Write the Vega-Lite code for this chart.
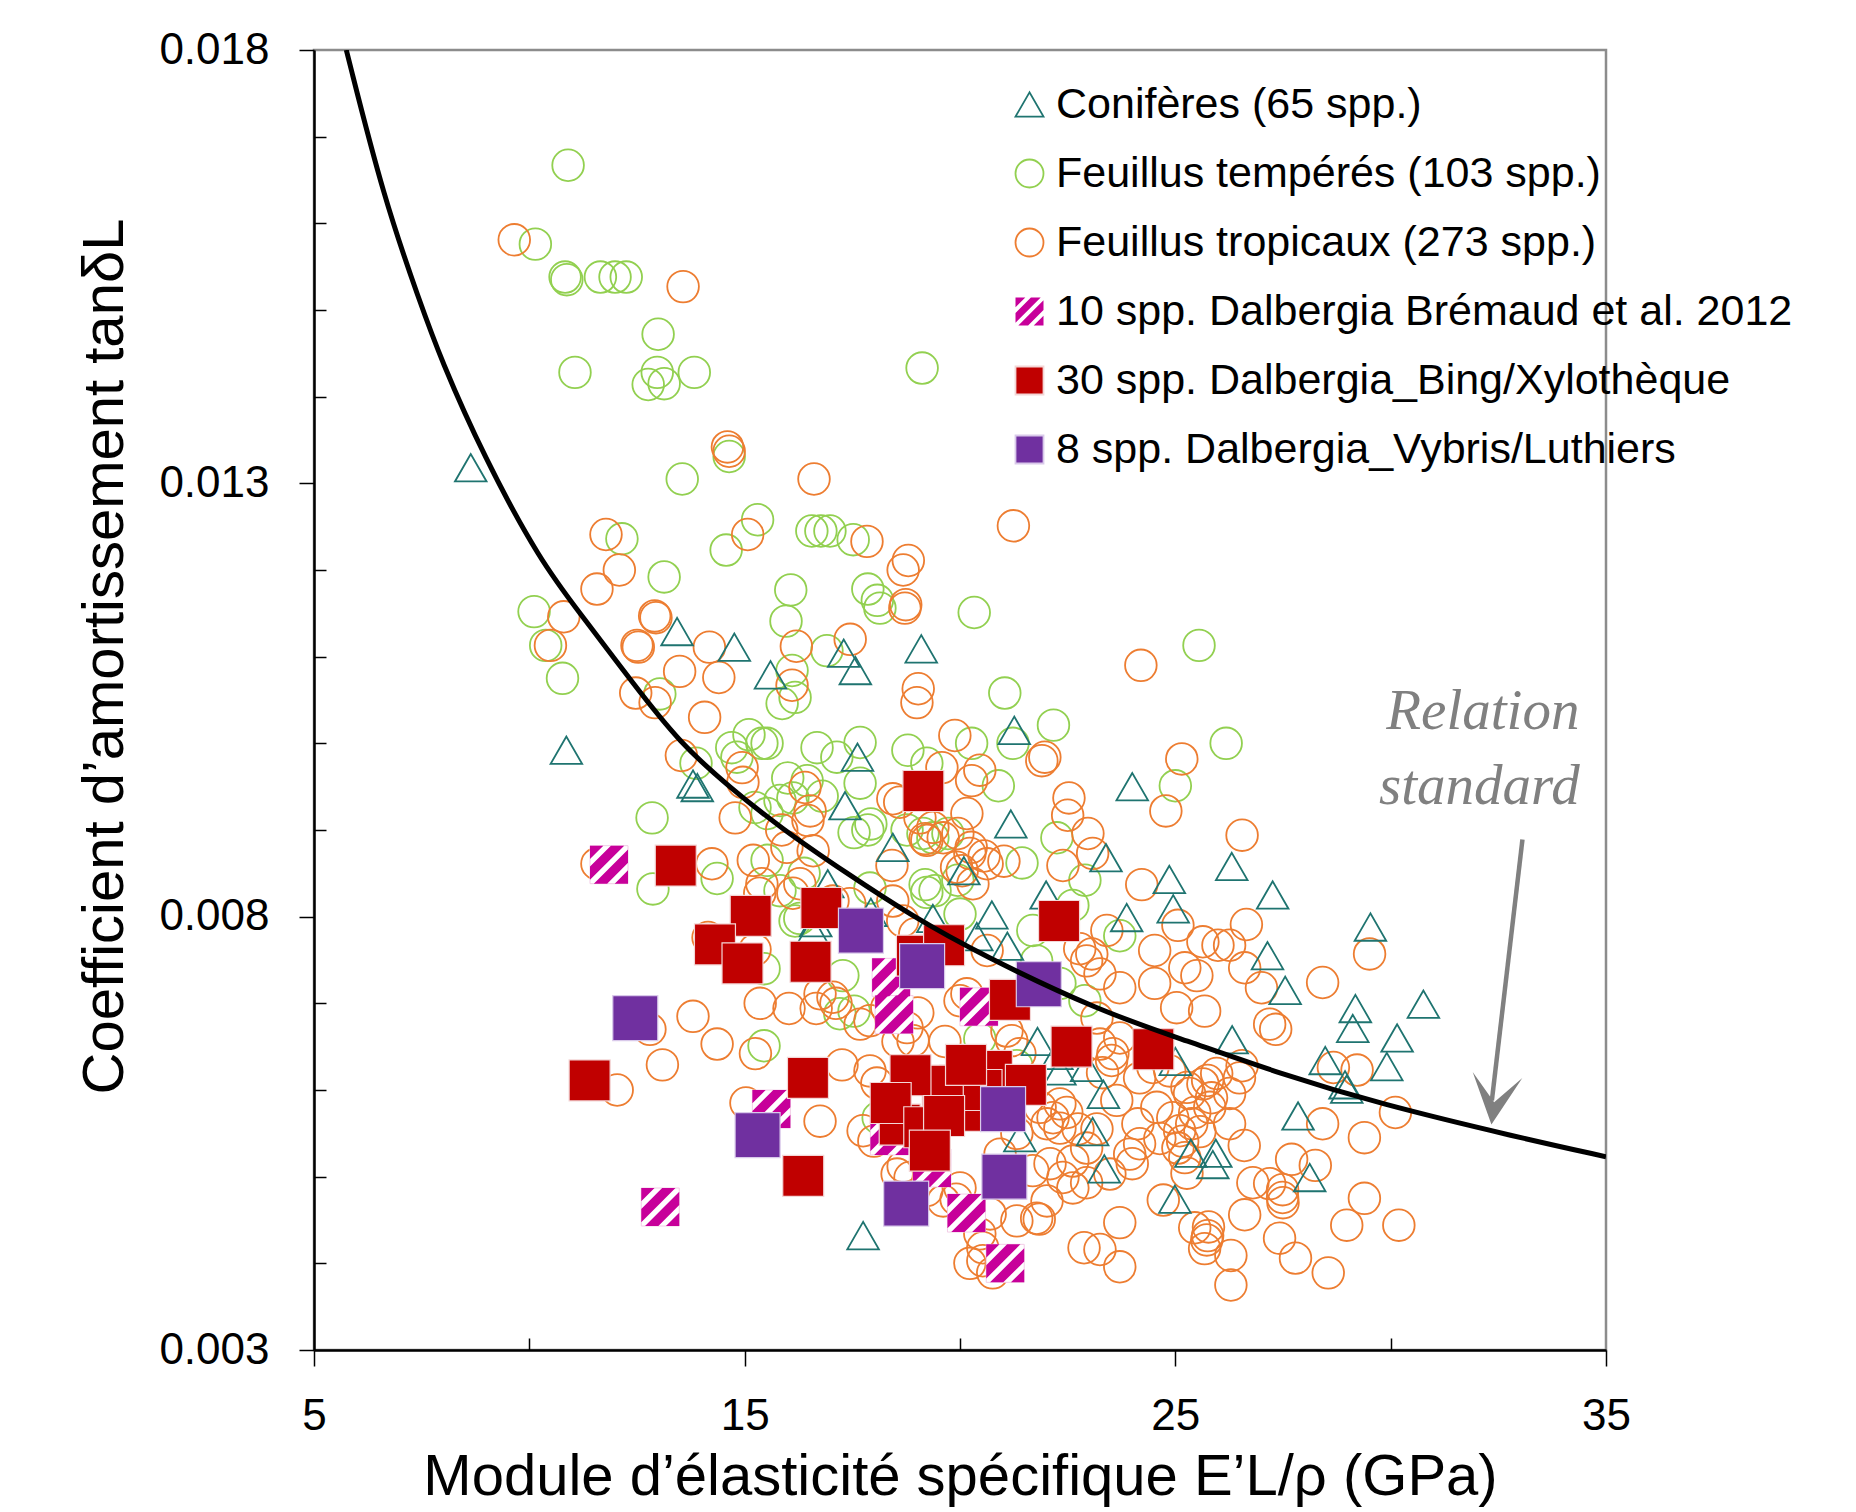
{
"$schema": "https://vega.github.io/schema/vega-lite/v6.json",
"width": 1292, "height": 1300,
"autosize": {"type": "none"},
"padding": {"left": 314, "top": 50, "right": 250, "bottom": 162},
"background": "white",
"config": {
  "view": {"stroke": "#8c8c8c", "strokeWidth": 2.5},
  "font": "Liberation Sans, Arial, sans-serif"
},
"datasets": {
"pts": [
{"g":"T","x":10.9,"y":0.01667},{"g":"T","x":10.14,"y":0.01576},{"g":"T","x":10.83,"y":0.01538},{"g":"T","x":10.87,"y":0.01535},{"g":"T","x":11.65,"y":0.01538},{"g":"T","x":11.99,"y":0.01538},{"g":"T","x":12.25,"y":0.01538},{"g":"T","x":12.99,"y":0.01472},{"g":"T","x":11.06,"y":0.01428},{"g":"T","x":12.97,"y":0.01428},
{"g":"T","x":12.76,"y":0.01414},{"g":"T","x":13.13,"y":0.01415},{"g":"T","x":13.83,"y":0.01428},{"g":"T","x":19.12,"y":0.01433},{"g":"T","x":14.64,"y":0.01331},{"g":"T","x":13.55,"y":0.01305},{"g":"T","x":12.15,"y":0.01236},{"g":"T","x":15.3,"y":0.01258},{"g":"T","x":16.56,"y":0.01245},{"g":"T","x":16.77,"y":0.01245},
{"g":"T","x":16.98,"y":0.01245},{"g":"T","x":17.52,"y":0.01235},{"g":"T","x":14.57,"y":0.01223},{"g":"T","x":13.13,"y":0.01192},{"g":"T","x":16.07,"y":0.01177},{"g":"T","x":17.86,"y":0.01178},{"g":"T","x":18.08,"y":0.01165},{"g":"T","x":20.33,"y":0.01151},{"g":"T","x":10.11,"y":0.01152},{"g":"T","x":10.38,"y":0.01113},
{"g":"T","x":10.77,"y":0.01075},{"g":"T","x":15.96,"y":0.01141},{"g":"T","x":16.1,"y":0.01084},{"g":"T","x":15.87,"y":0.01046},{"g":"T","x":16.17,"y":0.01053},{"g":"T","x":16.91,"y":0.01107},{"g":"T","x":18.14,"y":0.01156},{"g":"T","x":21.04,"y":0.01058},{"g":"T","x":25.55,"y":0.01113},{"g":"T","x":13.03,"y":0.01057},
{"g":"T","x":13.87,"y":0.00977},{"g":"T","x":12.85,"y":0.00914},{"g":"T","x":14.82,"y":0.00984},{"g":"T","x":15.4,"y":0.01},{"g":"T","x":15.52,"y":0.01},{"g":"T","x":16.68,"y":0.00995},{"g":"T","x":17.14,"y":0.00984},{"g":"T","x":17.68,"y":0.01001},{"g":"T","x":17.68,"y":0.00954},{"g":"T","x":16.12,"y":0.00937},
{"g":"T","x":15.82,"y":0.00934},{"g":"T","x":15.52,"y":0.00919},{"g":"T","x":17.86,"y":0.009},{"g":"T","x":18.79,"y":0.00992},{"g":"T","x":19.23,"y":0.00977},{"g":"T","x":20.27,"y":0.01},{"g":"T","x":18.77,"y":0.009},{"g":"T","x":19.14,"y":0.00896},{"g":"T","x":19.37,"y":0.00891},{"g":"T","x":19.23,"y":0.00828},
{"g":"T","x":20.0,"y":0.00803},{"g":"T","x":14.36,"y":0.00844},{"g":"T","x":12.87,"y":0.00832},{"g":"T","x":22.17,"y":0.01021},{"g":"T","x":26.18,"y":0.01},{"g":"T","x":25.0,"y":0.00951},{"g":"T","x":21.23,"y":0.01},{"g":"T","x":20.89,"y":0.00951},{"g":"T","x":22.25,"y":0.00891},{"g":"T","x":21.44,"y":0.00862},
{"g":"T","x":22.9,"y":0.00842},{"g":"T","x":19.95,"y":0.00842},{"g":"T","x":21.69,"y":0.00784},{"g":"T","x":22.62,"y":0.00813},{"g":"T","x":23.71,"y":0.00778},{"g":"T","x":21.78,"y":0.00749},{"g":"T","x":22.9,"y":0.00703},{"g":"T","x":22.32,"y":0.00723},{"g":"T","x":17.28,"y":0.00732},{"g":"T","x":17.21,"y":0.00688},
{"g":"T","x":20.46,"y":0.00659},{"g":"T","x":21.32,"y":0.00628},{"g":"T","x":18.1,"y":0.00568},{"g":"T","x":15.52,"y":0.00865},{"g":"T","x":15.82,"y":0.0083},{"g":"T","x":16.17,"y":0.00795},{"g":"T","x":17.91,"y":0.00833},{"g":"T","x":19.42,"y":0.0083},{"g":"T","x":15.1,"y":0.0101},{"g":"T","x":14.7,"y":0.00995},
{"g":"T","x":16.45,"y":0.00957},{"g":"T","x":16.0,"y":0.0096},{"g":"T","x":19.72,"y":0.00896},{"g":"T","x":15.45,"y":0.00651},{"g":"T","x":16.38,"y":0.0085},{"g":"T","x":16.28,"y":0.00798},{"g":"T","x":15.45,"y":0.0074},{"g":"T","x":17.54,"y":0.00691},{"g":"T","x":15.24,"y":0.00926},{"g":"T","x":16.8,"y":0.00939},
{"g":"T","x":17.93,"y":0.00907},{"g":"T","x":17.54,"y":0.00897},{"g":"T","x":19.19,"y":0.00837},
{"g":"R","x":9.65,"y":0.01581},{"g":"R","x":13.57,"y":0.01527},{"g":"R","x":14.64,"y":0.01337},{"g":"R","x":14.6,"y":0.01342},{"g":"R","x":16.61,"y":0.01305},{"g":"R","x":11.78,"y":0.01241},{"g":"R","x":15.07,"y":0.01241},{"g":"R","x":17.84,"y":0.01233},{"g":"R","x":18.8,"y":0.01211},{"g":"R","x":21.24,"y":0.01251},
{"g":"R","x":11.57,"y":0.01178},{"g":"R","x":12.09,"y":0.012},{"g":"R","x":18.68,"y":0.012},{"g":"R","x":18.74,"y":0.0116},{"g":"R","x":10.8,"y":0.01146},{"g":"R","x":10.49,"y":0.01113},{"g":"R","x":12.91,"y":0.01147},{"g":"R","x":12.53,"y":0.01111},{"g":"R","x":14.18,"y":0.01111},{"g":"R","x":13.49,"y":0.01083},
{"g":"R","x":14.4,"y":0.01076},{"g":"R","x":16.2,"y":0.01112},{"g":"R","x":16.1,"y":0.01067},{"g":"R","x":17.45,"y":0.0112},{"g":"R","x":19.03,"y":0.01063},{"g":"R","x":19.0,"y":0.01047},{"g":"R","x":24.2,"y":0.0109},{"g":"R","x":12.47,"y":0.01058},{"g":"R","x":12.92,"y":0.01047},{"g":"R","x":14.07,"y":0.0103},
{"g":"R","x":13.53,"y":0.00986},{"g":"R","x":14.78,"y":0.00914},{"g":"R","x":14.94,"y":0.00972},{"g":"R","x":14.96,"y":0.00955},{"g":"R","x":16.4,"y":0.00949},{"g":"R","x":16.52,"y":0.00922},{"g":"R","x":15.86,"y":0.009},{"g":"R","x":16.47,"y":0.00911},{"g":"R","x":18.44,"y":0.00936},{"g":"R","x":18.6,"y":0.00932},
{"g":"R","x":19.88,"y":0.01009},{"g":"R","x":20.27,"y":0.00957},{"g":"R","x":20.16,"y":0.00919},{"g":"R","x":19.23,"y":0.00888},{"g":"R","x":18.42,"y":0.00859},{"g":"R","x":19.92,"y":0.00857},{"g":"R","x":14.24,"y":0.00861},{"g":"R","x":11.57,"y":0.00861},{"g":"R","x":18.72,"y":0.01156},{"g":"R","x":12.94,"y":0.01145},
{"g":"R","x":12.5,"y":0.01113},{"g":"R","x":25.15,"y":0.00982},{"g":"R","x":21.97,"y":0.00984},{"g":"R","x":21.9,"y":0.0098},{"g":"R","x":19.58,"y":0.00972},{"g":"R","x":20.46,"y":0.00969},{"g":"R","x":22.53,"y":0.00937},{"g":"R","x":22.5,"y":0.00917},{"g":"R","x":24.78,"y":0.00922},{"g":"R","x":22.97,"y":0.00896},
{"g":"R","x":23.08,"y":0.00873},{"g":"R","x":22.39,"y":0.00859},{"g":"R","x":26.55,"y":0.00894},{"g":"R","x":24.22,"y":0.00837},{"g":"R","x":20.26,"y":0.0088},{"g":"R","x":20.56,"y":0.0087},{"g":"R","x":21.02,"y":0.00864},{"g":"R","x":20.63,"y":0.00861},{"g":"R","x":20.05,"y":0.00853},{"g":"R","x":19.19,"y":0.0089},
{"g":"R","x":19.61,"y":0.00891},{"g":"R","x":20.63,"y":0.00761},{"g":"R","x":22.78,"y":0.00763},{"g":"R","x":23.06,"y":0.00757},{"g":"R","x":23.41,"y":0.00784},{"g":"R","x":24.52,"y":0.00761},{"g":"R","x":25.06,"y":0.0079},{"g":"R","x":25.64,"y":0.00771},{"g":"R","x":25.99,"y":0.00767},{"g":"R","x":26.26,"y":0.00767},
{"g":"R","x":26.65,"y":0.00791},{"g":"R","x":25.22,"y":0.00741},{"g":"R","x":25.5,"y":0.00732},{"g":"R","x":26.61,"y":0.00741},{"g":"R","x":27.0,"y":0.00718},{"g":"R","x":23.71,"y":0.00718},{"g":"R","x":24.52,"y":0.00723},{"g":"R","x":25.03,"y":0.00695},{"g":"R","x":25.68,"y":0.00691},{"g":"R","x":27.19,"y":0.00676},
{"g":"R","x":22.94,"y":0.00749},{"g":"R","x":23.25,"y":0.00734},{"g":"R","x":29.51,"y":0.00757},{"g":"R","x":28.42,"y":0.00724},{"g":"R","x":27.33,"y":0.0067},{"g":"R","x":28.67,"y":0.00626},{"g":"R","x":29.22,"y":0.00623},{"g":"R","x":30.11,"y":0.00574},{"g":"R","x":29.39,"y":0.00545},{"g":"R","x":28.42,"y":0.00561},
{"g":"R","x":26.55,"y":0.00628},{"g":"R","x":26.49,"y":0.00614},{"g":"R","x":27.7,"y":0.0052},{"g":"R","x":28.25,"y":0.00513},{"g":"R","x":29.39,"y":0.00475},{"g":"R","x":28.98,"y":0.00444},{"g":"R","x":30.19,"y":0.00444},{"g":"R","x":27.49,"y":0.00485},{"g":"R","x":26.61,"y":0.00456},{"g":"R","x":27.42,"y":0.00429},
{"g":"R","x":27.79,"y":0.00406},{"g":"R","x":28.55,"y":0.00389},{"g":"R","x":25.77,"y":0.00442},{"g":"R","x":25.73,"y":0.00427},{"g":"R","x":26.29,"y":0.00409},{"g":"R","x":26.29,"y":0.00375},{"g":"R","x":23.71,"y":0.00447},{"g":"R","x":22.88,"y":0.00418},{"g":"R","x":23.25,"y":0.00416},{"g":"R","x":23.71,"y":0.00396},
{"g":"R","x":21.84,"y":0.00451},{"g":"R","x":24.72,"y":0.00473},{"g":"R","x":25.57,"y":0.00552},{"g":"R","x":25.27,"y":0.00504},{"g":"R","x":25.96,"y":0.00619},{"g":"R","x":25.75,"y":0.00611},{"g":"R","x":25.84,"y":0.00591},{"g":"R","x":25.33,"y":0.00596},{"g":"R","x":25.45,"y":0.00574},{"g":"R","x":25.38,"y":0.00561},
{"g":"R","x":25.1,"y":0.00553},{"g":"R","x":25.17,"y":0.00541},{"g":"R","x":26.26,"y":0.00561},{"g":"R","x":26.6,"y":0.00536},{"g":"R","x":25.22,"y":0.00522},{"g":"R","x":26.8,"y":0.00493},{"g":"R","x":27.19,"y":0.00492},{"g":"R","x":27.49,"y":0.00476},{"g":"R","x":27.5,"y":0.0047},{"g":"R","x":25.45,"y":0.00441},
{"g":"R","x":25.75,"y":0.00432},{"g":"R","x":25.68,"y":0.00417},{"g":"R","x":23.18,"y":0.00683},{"g":"R","x":23.52,"y":0.00634},{"g":"R","x":23.31,"y":0.0062},{"g":"R","x":23.64,"y":0.00588},{"g":"R","x":24.13,"y":0.00561},{"g":"R","x":24.57,"y":0.0058},{"g":"R","x":24.94,"y":0.00568},{"g":"R","x":25.8,"y":0.0058},
{"g":"R","x":26.26,"y":0.00596},{"g":"R","x":24.17,"y":0.00538},{"g":"R","x":24.64,"y":0.00544},{"g":"R","x":25.06,"y":0.00533},{"g":"R","x":22.16,"y":0.00568},{"g":"R","x":22.32,"y":0.00556},{"g":"R","x":22.74,"y":0.00555},{"g":"R","x":23.18,"y":0.00555},{"g":"R","x":22.94,"y":0.00533},{"g":"R","x":21.86,"y":0.0058},
{"g":"R","x":22.02,"y":0.00561},{"g":"R","x":22.32,"y":0.00584},{"g":"R","x":22.48,"y":0.00574},{"g":"R","x":21.69,"y":0.00507},{"g":"R","x":22.09,"y":0.00515},{"g":"R","x":22.39,"y":0.00499},{"g":"R","x":22.62,"y":0.00487},{"g":"R","x":22.94,"y":0.00493},{"g":"R","x":22.62,"y":0.00518},{"g":"R","x":23.48,"y":0.00503},
{"g":"R","x":23.94,"y":0.00526},{"g":"R","x":24.0,"y":0.00515},{"g":"R","x":21.78,"y":0.00452},{"g":"R","x":21.32,"y":0.00449},{"g":"R","x":20.7,"y":0.00457},{"g":"R","x":20.46,"y":0.00434},{"g":"R","x":20.53,"y":0.00403},{"g":"R","x":20.23,"y":0.004},{"g":"R","x":20.76,"y":0.00389},{"g":"R","x":20.93,"y":0.00526},
{"g":"R","x":21.32,"y":0.0055},{"g":"R","x":22.02,"y":0.00472},{"g":"R","x":19.23,"y":0.00484},{"g":"R","x":19.61,"y":0.00472},{"g":"R","x":20.0,"y":0.00487},{"g":"R","x":18.54,"y":0.00503},{"g":"R","x":18.84,"y":0.00499},{"g":"R","x":17.91,"y":0.00622},{"g":"R","x":18.07,"y":0.00608},{"g":"R","x":16.75,"y":0.00564},
{"g":"R","x":17.75,"y":0.00553},{"g":"R","x":17.68,"y":0.00676},{"g":"R","x":17.91,"y":0.0068},{"g":"R","x":18.77,"y":0.00672},{"g":"R","x":18.91,"y":0.00657},{"g":"R","x":17.05,"y":0.00707},{"g":"R","x":16.75,"y":0.00711},{"g":"R","x":20.0,"y":0.00703},{"g":"R","x":20.16,"y":0.00711},{"g":"R","x":21.09,"y":0.00668},
{"g":"R","x":21.2,"y":0.00657},{"g":"R","x":21.39,"y":0.00642},{"g":"R","x":23.25,"y":0.00653},{"g":"R","x":23.55,"y":0.00642},{"g":"R","x":23.71,"y":0.0066},{"g":"R","x":24.17,"y":0.00614},{"g":"R","x":24.48,"y":0.00626},{"g":"R","x":24.87,"y":0.00622},{"g":"R","x":25.27,"y":0.00603},{"g":"R","x":25.64,"y":0.00607},
{"g":"R","x":15.24,"y":0.00762},{"g":"R","x":14.15,"y":0.00776},{"g":"R","x":15.36,"y":0.007},{"g":"R","x":16.03,"y":0.00694},{"g":"R","x":16.66,"y":0.00694},{"g":"R","x":17.12,"y":0.007},{"g":"R","x":18.3,"y":0.00695},{"g":"R","x":18.56,"y":0.00656},{"g":"R","x":19.02,"y":0.00689},{"g":"R","x":13.8,"y":0.00685},
{"g":"R","x":14.36,"y":0.00653},{"g":"R","x":13.09,"y":0.00629},{"g":"R","x":12.04,"y":0.006},{"g":"R","x":15.03,"y":0.00585},{"g":"R","x":18.0,"y":0.00541},{"g":"R","x":18.68,"y":0.00512},{"g":"R","x":19.91,"y":0.00474},{"g":"R","x":20.53,"y":0.00418},{"g":"R","x":17.26,"y":0.00629},{"g":"R","x":19.65,"y":0.00656},
{"g":"R","x":15.4,"y":0.00838},{"g":"R","x":16.28,"y":0.00838},{"g":"R","x":15.98,"y":0.0088},{"g":"R","x":16.59,"y":0.00876},{"g":"R","x":15.2,"y":0.00865},{"g":"R","x":19.07,"y":0.00914},{"g":"R","x":19.37,"y":0.00903},{"g":"R","x":19.95,"y":0.00896},{"g":"R","x":20.23,"y":0.00873},{"g":"R","x":20.3,"y":0.00838},
{"g":"R","x":18.44,"y":0.00818},{"g":"R","x":18.67,"y":0.00795},{"g":"R","x":18.95,"y":0.0078},{"g":"R","x":17.05,"y":0.00818},{"g":"R","x":17.44,"y":0.00815},{"g":"R","x":16.12,"y":0.00827},{"g":"R","x":15.35,"y":0.00827},{"g":"R","x":12.8,"y":0.0067},{"g":"R","x":15.25,"y":0.00642},
{"g":"C","x":8.64,"y":0.01318},{"g":"C","x":10.86,"y":0.00992},{"g":"C","x":13.43,"y":0.01129},{"g":"C","x":14.76,"y":0.01111},{"g":"C","x":15.6,"y":0.01079},{"g":"C","x":17.3,"y":0.01104},{"g":"C","x":17.57,"y":0.01084},{"g":"C","x":19.1,"y":0.01109},{"g":"C","x":13.8,"y":0.00953},{"g":"C","x":13.9,"y":0.00949},
{"g":"C","x":17.62,"y":0.00984},{"g":"C","x":17.33,"y":0.00928},{"g":"C","x":18.44,"y":0.0088},{"g":"C","x":21.26,"y":0.01015},{"g":"C","x":21.18,"y":0.00907},{"g":"C","x":24.0,"y":0.0095},{"g":"C","x":23.39,"y":0.00868},{"g":"C","x":20.09,"y":0.00853},{"g":"C","x":20.74,"y":0.00802},{"g":"C","x":22.0,"y":0.00825},
{"g":"C","x":19.37,"y":0.00798},{"g":"C","x":21.1,"y":0.00766},{"g":"C","x":20.39,"y":0.00777},{"g":"C","x":23.87,"y":0.00799},{"g":"C","x":24.86,"y":0.00843},{"g":"C","x":24.95,"y":0.00809},{"g":"C","x":26.31,"y":0.00858},{"g":"C","x":27.26,"y":0.00825},{"g":"C","x":27.14,"y":0.00755},{"g":"C","x":27.55,"y":0.00715},
{"g":"C","x":29.53,"y":0.00788},{"g":"C","x":29.18,"y":0.00694},{"g":"C","x":29.12,"y":0.00671},{"g":"C","x":30.76,"y":0.00699},{"g":"C","x":30.15,"y":0.0066},{"g":"C","x":29.91,"y":0.00627},{"g":"C","x":28.48,"y":0.00634},{"g":"C","x":28.98,"y":0.00601},{"g":"C","x":28.94,"y":0.00606},{"g":"C","x":27.85,"y":0.0057},
{"g":"C","x":28.12,"y":0.00499},{"g":"C","x":26.32,"y":0.00658},{"g":"C","x":25.0,"y":0.00633},{"g":"C","x":25.36,"y":0.00527},{"g":"C","x":25.94,"y":0.00527},{"g":"C","x":25.87,"y":0.00514},{"g":"C","x":24.99,"y":0.00474},{"g":"C","x":23.35,"y":0.00509},{"g":"C","x":23.08,"y":0.00552},{"g":"C","x":23.33,"y":0.00595},
{"g":"C","x":22.94,"y":0.00626},{"g":"C","x":22.32,"y":0.00622},{"g":"C","x":21.8,"y":0.00656},{"g":"C","x":21.39,"y":0.00545},{"g":"C","x":17.75,"y":0.00432},{"g":"C","x":16.65,"y":0.00793},{"g":"C","x":17.93,"y":0.00805},{"g":"C","x":16.93,"y":0.00838},{"g":"C","x":16.58,"y":0.00784},{"g":"C","x":22.25,"y":0.0064},
{"g":"H","x":11.85,"y":0.0086},{"g":"H","x":18.4,"y":0.0073},{"g":"H","x":18.47,"y":0.00687},{"g":"H","x":20.44,"y":0.00696},{"g":"H","x":15.62,"y":0.00578},{"g":"H","x":18.36,"y":0.00547},{"g":"H","x":19.35,"y":0.0051},{"g":"H","x":13.04,"y":0.00465},{"g":"H","x":20.15,"y":0.00458},{"g":"H","x":21.05,"y":0.004},
{"g":"B","x":20.74,"y":0.00622},{"g":"B","x":20.07,"y":0.00587},{"g":"B","x":20.3,"y":0.00576},{"g":"B","x":19.0,"y":0.00755},{"g":"B","x":20.0,"y":0.00605},{"g":"B","x":20.5,"y":0.006},{"g":"B","x":19.6,"y":0.00605},{"g":"B","x":18.6,"y":0.0056},
{"g":"B","x":19.15,"y":0.00945},{"g":"B","x":13.4,"y":0.00859},{"g":"B","x":15.14,"y":0.00801},{"g":"B","x":16.78,"y":0.0081},{"g":"B","x":14.31,"y":0.00768},{"g":"B","x":14.95,"y":0.00746},{"g":"B","x":16.53,"y":0.00748},{"g":"B","x":19.63,"y":0.00767},{"g":"B","x":22.3,"y":0.00795},{"g":"B","x":21.16,"y":0.00704},
{"g":"B","x":22.59,"y":0.0065},{"g":"B","x":24.49,"y":0.00647},{"g":"B","x":11.4,"y":0.00611},{"g":"B","x":16.47,"y":0.00614},{"g":"B","x":18.85,"y":0.00617},{"g":"B","x":20.14,"y":0.00629},{"g":"B","x":21.53,"y":0.00606},{"g":"B","x":18.39,"y":0.00585},{"g":"B","x":19.17,"y":0.00557},{"g":"B","x":19.63,"y":0.0057},
{"g":"B","x":19.3,"y":0.0053},{"g":"B","x":16.36,"y":0.00501},
{"g":"V","x":12.46,"y":0.00683},{"g":"V","x":17.7,"y":0.00784},{"g":"V","x":19.12,"y":0.00743},{"g":"V","x":21.83,"y":0.00722},{"g":"V","x":15.3,"y":0.00548},{"g":"V","x":21.0,"y":0.00578},{"g":"V","x":21.03,"y":0.005},{"g":"V","x":18.75,"y":0.00469}
],
"curve": [
{"x":5.75,"y":0.018},{"x":6.63,"y":0.01627},{"x":7.47,"y":0.01508},{"x":7.93,"y":0.01445},{"x":8.95,"y":0.0133},{"x":10.27,"y":0.01209},{"x":11.18,"y":0.0115},{"x":12.41,"y":0.01069},{"x":13.5,"y":0.01},{"x":14.66,"y":0.00949},
{"x":15.82,"y":0.00903},{"x":17.37,"y":0.0085},{"x":18.91,"y":0.008},{"x":20.46,"y":0.00757},{"x":23.24,"y":0.00691},{"x":25.26,"y":0.00657},{"x":27.42,"y":0.00619},{"x":29.74,"y":0.00584},{"x":32.99,"y":0.00545},{"x":35,"y":0.00523}
],
"note": [{"label":"Relation","x":32.14,"y":0.01016},{"label":"standard","x":32.06,"y":0.0093}],
"arrow": [{"x":33.06,"y":0.00889,"x2":32.35,"y2":0.00588}],
"head": [{"x":32.41,"y":0.005887}]
},
"encoding": {
  "x": {"field":"x","type":"quantitative",
    "scale":{"domain":[5,35],"nice":false,"zero":false},
    "axis":{"values":[5,10,15,20,25,30,35],"format":"d","labelFlush":false,
      "labelExpr":"datum.value % 10 == 5 ? datum.label : ''",
      "grid":false,"domainColor":"#000000","domainWidth":2.5,
      "tickColor":"#000000","tickWidth":1.5,
      "tickSize":{"condition":{"test":"datum.value % 10 == 5","value":16},"value":-12},
      "labelFontSize":44,"labelColor":"#000000","labelPadding":28,
      "title":"Module d’élasticité spécifique E’L/ρ (GPa)","titleFontSize":58,"titleFontWeight":"normal","titleColor":"#000000","titlePadding":10}},
  "y": {"field":"y","type":"quantitative",
    "scale":{"domain":[0.003,0.018],"nice":false,"zero":false},
    "axis":{"values":[0.003,0.004,0.005,0.006,0.007,0.008,0.009,0.01,0.011,0.012,0.013,0.014,0.015,0.016,0.017,0.018],"format":".3f","labelFlush":false,
      "labelExpr":"round(datum.value*1000) % 5 == 3 ? datum.label : ''",
      "grid":false,"domainColor":"#000000","domainWidth":2.5,
      "tickColor":"#000000","tickWidth":1.5,
      "tickSize":{"condition":{"test":"round(datum.value*1000) % 5 == 3","value":15},"value":-12},
      "labelFontSize":44,"labelColor":"#000000","labelPadding":30,
      "title":"Coefficient d’amortissement tanδL","titleFontSize":58,"titleFontWeight":"normal","titleColor":"#000000","titlePadding":24,"titleY":606}}
},
"layer": [
{"data":{"name":"pts"},
 "transform":[{"filter":{"field":"g","oneOf":["T","R","C"]}}],
 "mark":{"type":"point","opacity":1,"strokeWidth":1.8,"size":1000},
 "encoding":{
   "shape":{"field":"g","type":"nominal","scale":{"domain":["C","T","R","H","B","V"],"range":["triangle-up","circle","circle","M-1 -1L-0.3 -1L-1 -0.3Z M-1 0.1L0.1 -1L0.8 -1L-1 0.8Z M-0.8 1L1 -0.8L1 -0.1L-0.1 1Z M0.3 1L1 0.3L1 1Z","square","square"]},
     "legend":{"orient":"none","legendX":694,"legendY":33,"title":null,"padding":0,"labelFontSize":43,"labelColor":"#000000","labelLimit":3000,"symbolSize":784,"symbolStrokeWidth":1.8,"symbolOpacity":1,"rowPadding":25,"labelOffset":5,
       "labelExpr":"datum.value=='C'?'Conifères (65 spp.)':datum.value=='T'?'Feuillus tempérés (103 spp.)':datum.value=='R'?'Feuillus tropicaux (273 spp.)':datum.value=='H'?'10 spp. Dalbergia Brémaud et al. 2012':datum.value=='B'?'30 spp. Dalbergia_Bing/Xylothèque':'8 spp. Dalbergia_Vybris/Luthiers'"}},
   "fill":{"field":"g","type":"nominal","scale":{"domain":["C","T","R","H","B","V"],"range":["transparent","transparent","transparent","#C7009A","#C00000","#7030A0"]},
     "legend":{"orient":"none","legendX":694,"legendY":33,"title":null,"padding":0,"labelFontSize":43,"labelColor":"#000000","labelLimit":3000,"symbolSize":784,"symbolStrokeWidth":1.8,"symbolOpacity":1,"rowPadding":25,"labelOffset":5,
       "labelExpr":"datum.value=='C'?'Conifères (65 spp.)':datum.value=='T'?'Feuillus tempérés (103 spp.)':datum.value=='R'?'Feuillus tropicaux (273 spp.)':datum.value=='H'?'10 spp. Dalbergia Brémaud et al. 2012':datum.value=='B'?'30 spp. Dalbergia_Bing/Xylothèque':'8 spp. Dalbergia_Vybris/Luthiers'"}},
   "stroke":{"field":"g","type":"nominal","scale":{"domain":["C","T","R","H","B","V"],"range":["#1F7470","#92D050","#ED7D31","transparent","#F3D6D6","#D9C9EA"]},
     "legend":{"orient":"none","legendX":694,"legendY":33,"title":null,"padding":0,"labelFontSize":43,"labelColor":"#000000","labelLimit":3000,"symbolSize":784,"symbolStrokeWidth":1.8,"symbolOpacity":1,"rowPadding":25,"labelOffset":5,
       "labelExpr":"datum.value=='C'?'Conifères (65 spp.)':datum.value=='T'?'Feuillus tempérés (103 spp.)':datum.value=='R'?'Feuillus tropicaux (273 spp.)':datum.value=='H'?'10 spp. Dalbergia Brémaud et al. 2012':datum.value=='B'?'30 spp. Dalbergia_Bing/Xylothèque':'8 spp. Dalbergia_Vybris/Luthiers'"}}
 }},
{"data":{"name":"pts"},
 "transform":[{"filter":{"field":"g","equal":"H"}}],
 "mark":{"type":"point","shape":"square","filled":true,"fill":"#FFFFFF","stroke":"#F2CDE6","strokeWidth":1,"opacity":1,"size":1444}},
{"data":{"name":"pts"},
 "transform":[{"filter":{"field":"g","equal":"H"}}],
 "mark":{"type":"point","opacity":1,"strokeWidth":0,"size":1444},
 "encoding":{
   "shape":{"field":"g","type":"nominal","scale":{"domain":["C","T","R","H","B","V"],"range":["triangle-up","circle","circle","M-1 -1L-0.3 -1L-1 -0.3Z M-1 0.1L0.1 -1L0.8 -1L-1 0.8Z M-0.8 1L1 -0.8L1 -0.1L-0.1 1Z M0.3 1L1 0.3L1 1Z","square","square"]}},
   "fill":{"field":"g","type":"nominal","scale":{"domain":["C","T","R","H","B","V"],"range":["transparent","transparent","transparent","#C7009A","#C00000","#7030A0"]}},
   "stroke":{"field":"g","type":"nominal","scale":{"domain":["C","T","R","H","B","V"],"range":["#1F7470","#92D050","#ED7D31","transparent","#F3D6D6","#D9C9EA"]}}
 }},
{"data":{"name":"pts"},
 "transform":[{"filter":{"field":"g","equal":"B"}}],
 "mark":{"type":"point","opacity":1,"strokeWidth":1.2,"size":1681},
 "encoding":{
   "shape":{"field":"g","type":"nominal","scale":{"domain":["C","T","R","H","B","V"],"range":["triangle-up","circle","circle","M-1 -1L-0.3 -1L-1 -0.3Z M-1 0.1L0.1 -1L0.8 -1L-1 0.8Z M-0.8 1L1 -0.8L1 -0.1L-0.1 1Z M0.3 1L1 0.3L1 1Z","square","square"]}},
   "fill":{"field":"g","type":"nominal","scale":{"domain":["C","T","R","H","B","V"],"range":["transparent","transparent","transparent","#C7009A","#C00000","#7030A0"]}},
   "stroke":{"field":"g","type":"nominal","scale":{"domain":["C","T","R","H","B","V"],"range":["#1F7470","#92D050","#ED7D31","transparent","#F3D6D6","#D9C9EA"]}}
 }},
{"data":{"name":"pts"},
 "transform":[{"filter":{"field":"g","equal":"V"}}],
 "mark":{"type":"point","opacity":1,"strokeWidth":1.2,"size":2025},
 "encoding":{
   "shape":{"field":"g","type":"nominal","scale":{"domain":["C","T","R","H","B","V"],"range":["triangle-up","circle","circle","M-1 -1L-0.3 -1L-1 -0.3Z M-1 0.1L0.1 -1L0.8 -1L-1 0.8Z M-0.8 1L1 -0.8L1 -0.1L-0.1 1Z M0.3 1L1 0.3L1 1Z","square","square"]}},
   "fill":{"field":"g","type":"nominal","scale":{"domain":["C","T","R","H","B","V"],"range":["transparent","transparent","transparent","#C7009A","#C00000","#7030A0"]}},
   "stroke":{"field":"g","type":"nominal","scale":{"domain":["C","T","R","H","B","V"],"range":["#1F7470","#92D050","#ED7D31","transparent","#F3D6D6","#D9C9EA"]}}
 }},
{"data":{"name":"curve"},
 "mark":{"type":"line","color":"#000000","strokeWidth":5,"interpolate":"basis","clip":true},
 "encoding":{}},
{"data":{"name":"note"},
 "mark":{"type":"text","font":"Liberation Serif, DejaVu Serif, serif","fontStyle":"italic","fontSize":57,"color":"#808080","align":"center","baseline":"alphabetic"},
 "encoding":{"text":{"field":"label","type":"nominal"}}},
{"data":{"name":"arrow"},
 "mark":{"type":"rule","color":"#808080","strokeWidth":4.5},
 "encoding":{"x2":{"field":"x2"},"y2":{"field":"y2"}}},
{"data":{"name":"head"},
 "mark":{"type":"point","shape":"M0 1L-1 -1L0 0.1L1 -1Z","filled":true,"fill":"#808080","strokeWidth":0,"opacity":1,"size":2500,"angle":7}}
]
}
